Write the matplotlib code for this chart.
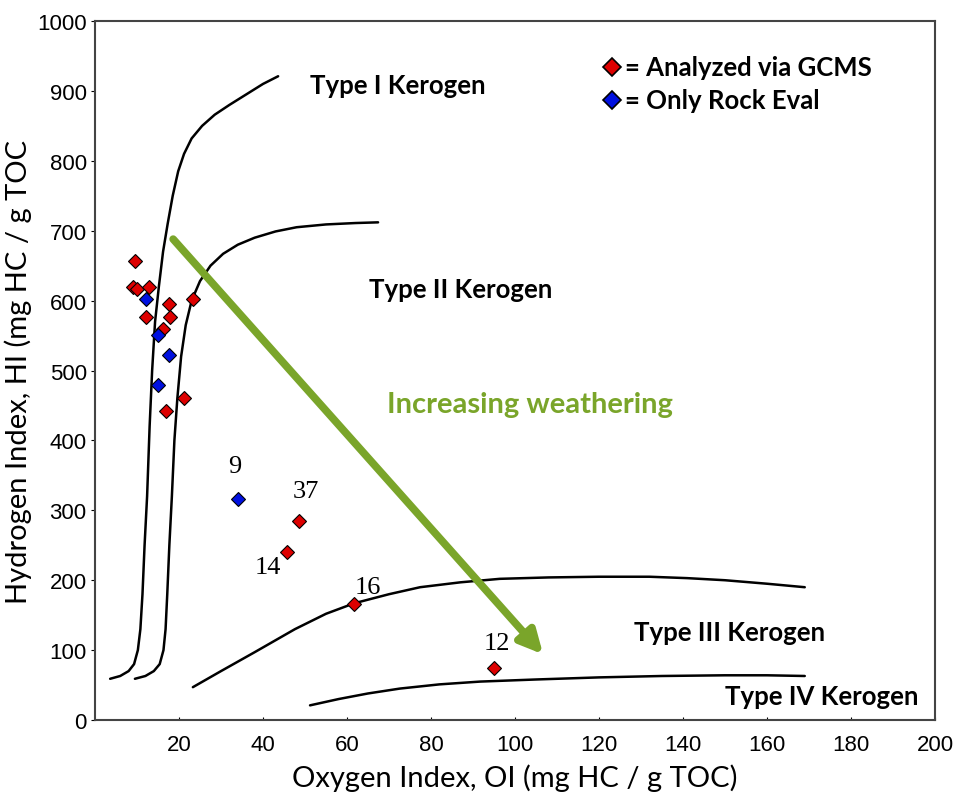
import matplotlib.pyplot as plt
import numpy as np

# sample points (OI, HI)
gcms_oi = [9.5, 9.1, 9.9, 12.9, 17.6, 23.4, 12.1, 17.9, 16.1, 21.3, 16.8, 48.6, 45.6, 61.7, 95.1]
gcms_hi = [657, 620, 617, 620, 595, 602, 576, 576, 559, 460, 442, 285, 241, 166, 74]
rock_oi = [12.1, 15.1, 17.6, 15.1, 34.1]
rock_hi = [603, 551, 522, 480, 316]

# labelled samples
sample_ids = ["9", "37", "14", "16", "12"]
id_x = [33.3, 50.2, 41.2, 65.0, 95.7]
id_y = [363, 328, 219, 190, 110]

# kerogen type reference curves
type1_oi = [3.6, 6.0, 8.0, 9.3, 10.2, 10.8, 11.3, 11.8, 12.4, 13.0, 13.6, 14.3, 15.2, 16.2,
            17.3, 18.5, 19.8, 21.2, 23.0, 25.5, 28.5, 32.0, 36.0, 40.0, 43.6]
type1_hi = [59, 63, 70, 80, 100, 130, 180, 250, 320, 420, 500, 570, 620, 670,
            710, 750, 785, 810, 832, 850, 866, 880, 895, 910, 921]
type2_oi = [9.5, 12.0, 14.0, 15.4, 16.3, 16.8, 17.2, 17.7, 18.3, 18.9, 19.6, 20.5, 21.6, 23.0,
            25.0, 27.5, 30.5, 34.0, 38.0, 43.0, 48.0, 55.0, 62.0, 67.4]
type2_hi = [59, 63, 70, 80, 100, 130, 180, 250, 320, 400, 460, 520, 565, 600,
            628, 650, 667, 680, 690, 699, 705, 709, 711, 712]
type3_oi = [23.3, 30.0, 38.0, 47.6, 55.0, 61.7, 70.0, 77.4, 87.0, 96.4, 108.0, 120.0,
            132.0, 141.0, 150.0, 160.0, 169.0]
type3_hi = [47, 70, 97, 130, 152, 167, 180, 190, 197, 202, 204, 205, 205, 203, 200, 195, 190]
type4_oi = [51.2, 58.0, 65.0, 72.6, 82.0, 91.7, 105.0, 120.0, 135.0, 150.0, 160.0, 169.0]
type4_hi = [21, 30, 38, 45, 51, 55, 58, 61, 63, 64, 64, 63]

fig = plt.figure(figsize=(9.55, 8.04), dpi=100)
ax = fig.add_axes([0.0995, 0.1032, 0.8795, 0.8694])

for xs, ys in [(type1_oi, type1_hi), (type2_oi, type2_hi), (type3_oi, type3_hi), (type4_oi, type4_hi)]:
    ax.plot(xs, ys, color="black", lw=1.8, solid_capstyle="round", solid_joinstyle="round")

ax.plot(gcms_oi, gcms_hi, "D", ms=7, mfc="#dd0000", mec="black", mew=0.8, ls="none")
ax.plot(rock_oi, rock_hi, "D", ms=7, mfc="#0010e0", mec="black", mew=0.8, ls="none")

for s, x, y in zip(sample_ids, id_x, id_y):
    ax.text(x, y, s, ha="center", va="center", fontsize=19, family="Liberation Serif")

# weathering arrow
green = "#7aa52a"
ax.annotate("", xy=(106.7, 94), xytext=(18.6, 688),
            arrowprops=dict(arrowstyle="-|>", lw=5.5, color=green, mutation_scale=34, shrinkA=0, shrinkB=0))
ax.text(103.6, 452, "Increasing weathering", color=green, fontsize=21, family="Lato",
        fontweight="bold", ha="center", va="center")

lab = dict(fontsize=18.5, family="Lato", fontweight="bold", ha="center", va="center")
ax.text(72, 909, "Type I Kerogen", **lab)
ax.text(87, 617, "Type II Kerogen", **lab)
ax.text(151, 126, "Type III Kerogen", **lab)
ax.text(173, 34, "Type IV Kerogen", **lab)

# legend drawn by hand
ax.plot([123], [934], "D", ms=9, mfc="#dd0000", mec="black", mew=1.2)
ax.plot([123], [887], "D", ms=9, mfc="#0010e0", mec="black", mew=1.2)
ax.text(126.3, 934, "= Analyzed via GCMS", fontsize=18.5, family="Lato", fontweight="bold", va="center")
ax.text(126.3, 887, "= Only Rock Eval", fontsize=18.5, family="Lato", fontweight="bold", va="center")

ax.set_xlim(0, 200)
ax.set_ylim(0, 1000)
ax.set_xticks(np.arange(20, 201, 20))
ax.set_yticks(np.arange(0, 1001, 100))
ax.tick_params(axis="x", direction="in", length=2, pad=10, labelsize=16)
ax.tick_params(axis="y", direction="out", length=3, pad=3, labelsize=16)
for t in ax.get_xticklabels() + ax.get_yticklabels():
    t.set_family("Liberation Sans")
for sp in ax.spines.values():
    sp.set_color("#444444")
    sp.set_linewidth(1.5)

ax.set_xlabel("Oxygen Index, OI (mg HC / g TOC)", fontsize=21, family="Lato", labelpad=6)
ax.set_ylabel("Hydrogen Index, HI (mg HC / g TOC", fontsize=21, family="Lato", labelpad=4)

fig.savefig("out.png", dpi=100)
